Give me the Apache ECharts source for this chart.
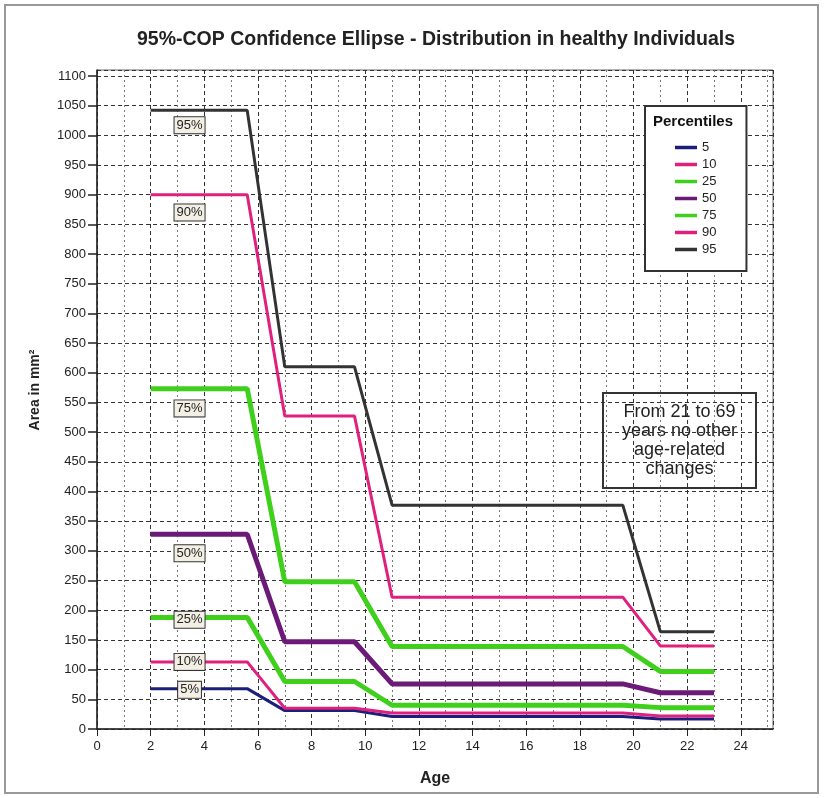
<!DOCTYPE html>
<html>
<head>
<meta charset="utf-8">
<script src="https://cdn.jsdelivr.net/npm/echarts@6/dist/echarts.min.js"></script>
<style>
  html, body { margin: 0; padding: 0; background: #fff; }
  #main { width: 824px; height: 798px; }
</style>
</head>
<body>
<div id="main"></div>
<script>
// ages where the percentile curves change
const ages = [2, 5.6, 7, 9.6, 11, 19.6, 21, 23];

// area values (mm²) per percentile
const p5 = [68, 68, 31, 31, 21, 21, 17, 17];
const p10 = [113, 113, 35, 35, 27, 27, 22, 22];
const p25 = [188, 188, 80, 80, 40, 40, 36, 36];
const p50 = [328, 328, 147, 147, 76, 76, 61, 61];
const p75 = [573, 573, 248, 248, 139, 139, 97, 97];
const p90 = [900, 900, 527, 527, 222, 222, 140, 140];
const p95 = [1042, 1042, 610, 610, 377, 377, 164, 164];

const names = ['5', '10', '25', '50', '75', '90', '95'];
const labelTexts = ['5%', '10%', '25%', '50%', '75%', '90%', '95%'];
// where the in-chart percent labels sit (age, area)
const labelAge = 3.45;
const labelVals = [66, 113, 184, 296, 540, 870, 1017];

const values = [p5, p10, p25, p50, p75, p90, p95];
const colors = ['#1c1f7a', '#e0207e', '#3fd01c', '#6b1a78', '#3fd01c', '#e0207e', '#333333'];
const widths = [3, 3, 5, 5, 5, 3, 3];

const font = 'Liberation Sans, Arial, sans-serif';

const series = values.map((v, i) => ({
    name: names[i],
    type: 'line',
    symbol: 'none',
    data: ages.map((a, j) => [a, v[j]]),
    lineStyle: { color: colors[i], width: widths[i] },
    itemStyle: { color: colors[i] },
    z: 3 + (i === 6 ? 1 : 0),
    markPoint: {
        symbol: 'rect',
        symbolSize: 1,
        itemStyle: { color: 'rgba(0,0,0,0)' },
        data: [{ coord: [labelAge, labelVals[i]] }],
        label: {
            show: true,
            position: 'inside',
            formatter: labelTexts[i],
            fontFamily: font,
            fontSize: 13,
            color: '#222',
            backgroundColor: '#f3efe4',
            borderColor: '#333',
            borderWidth: 1,
            padding: [2, 2, 1, 2]
        }
    }
}));

const chart = echarts.init(document.getElementById('main'));

const option = {
    animation: false,
    backgroundColor: '#fff',
    title: {
        text: '95%-COP Confidence Ellipse - Distribution in healthy Individuals',
        left: 431,
        top: 25,
        textAlign: 'center',
        textStyle: { fontFamily: font, fontSize: 19.5, fontWeight: 'bold', color: '#222' }
    },
    grid: {
        left: 97, right: 51, top: 70, bottom: 69,
        show: true, borderColor: '#666', borderWidth: 1
    },
    legend: {
        orient: 'vertical',
        left: 645,
        top: 106,
        data: names,
        selectedMode: false,
        icon: 'rect',
        itemWidth: 22,
        itemHeight: 3.5,
        itemGap: 0,
        padding: [33, 30, 13, 30],
        backgroundColor: '#fff',
        borderColor: '#333',
        borderWidth: 2,
        textStyle: { fontFamily: font, fontSize: 13, lineHeight: 17, color: '#222' }
    },
    xAxis: {
        type: 'value',
        min: 0,
        max: 25.2,
        interval: 2,
        name: 'Age',
        nameLocation: 'middle',
        nameGap: 42,
        nameTextStyle: { fontFamily: font, fontSize: 16, fontWeight: 'bold', color: '#222' },
        axisLine: { lineStyle: { color: '#222', width: 1.5 } },
        axisTick: { length: 7, lineStyle: { color: '#222' } },
        axisLabel: { showMaxLabel: false, fontFamily: font, fontSize: 13, color: '#222', margin: 11 },
        splitLine: { show: true, lineStyle: { color: '#333', type: [4, 3], width: 1 } },
        minorTick: { show: false, splitNumber: 2 },
        minorSplitLine: { show: true, lineStyle: { color: '#777', type: [2, 3], width: 1 } }
    },
    yAxis: {
        type: 'value',
        min: 0,
        max: 1110,
        interval: 50,
        axisLine: { show: true, lineStyle: { color: '#222', width: 1.5 } },
        axisTick: { show: true, length: 9, lineStyle: { color: '#222', width: 1.5 } },
        axisLabel: {
            showMaxLabel: false,
            fontFamily: font, fontSize: 13, color: '#222', margin: 11,
            formatter: v => (v % 50 === 0 ? String(v) : '')
        },
        splitLine: { show: true, lineStyle: { color: '#333', type: [4, 3], width: 1 } }
    },
    graphic: [
        {
            type: 'rect',
            shape: { x: 5, y: 5, width: 813, height: 788 },
            style: { fill: 'none', stroke: '#999', lineWidth: 2 },
            silent: true
        },
        {
            type: 'text',
            x: 35,
            y: 390,
            rotation: Math.PI / 2,
            style: {
                text: 'Area in mm²',
                align: 'center',
                verticalAlign: 'middle',
                fontFamily: font, fontSize: 14, fontWeight: 'bold', fill: '#222'
            }
        },
        {
            type: 'text',
            left: 653,
            top: 114,
            z: 200,
            style: { text: 'Percentiles', fontFamily: font, fontSize: 15, fontWeight: 'bold', fill: '#111' }
        },
        {
            type: 'group',
            left: 602,
            top: 392,
            z: 100,
            children: [
                {
                    type: 'rect',
                    shape: { x: 0, y: 0, width: 153, height: 95 },
                    style: { fill: '#fff', stroke: '#333', lineWidth: 2 }
                },
                {
                    type: 'text',
                    x: 76.5,
                    y: 48,
                    style: {
                        text: 'From 21 to 69\nyears no other\nage-related\nchanges',
                        align: 'center',
                        verticalAlign: 'middle',
                        fontFamily: font,
                        fontSize: 18,
                        lineHeight: 19,
                        fill: '#222'
                    }
                }
            ]
        }
    ],
    series: series
};

chart.setOption(option);
</script>
</body>
</html>
